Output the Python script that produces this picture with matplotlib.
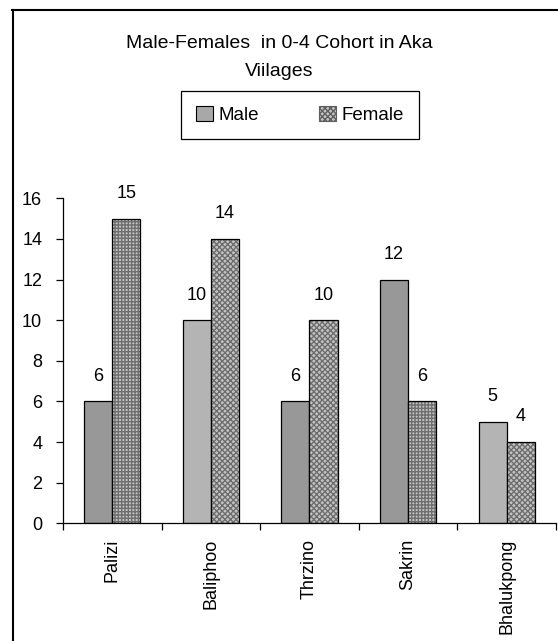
import matplotlib.pyplot as plt
from matplotlib.patches import Patch
from matplotlib.lines import Line2D

plt.rcParams['font.family'] = ['Liberation Sans', 'DejaVu Sans']

# data
villages = ["Palizi", "Baliphoo", "Thrzino", "Sakrin", "Bhalukpong"]
male = [6, 10, 6, 12, 5]
female = [15, 14, 10, 6, 4]
y_ticks = [0, 2, 4, 6, 8, 10, 12, 14, 16]

# styles (one per village, the original uses slightly different fills)
male_colors = ['#989898', '#b4b4b4', '#989898', '#989898', '#b4b4b4']
female_hatch = ['+++++', 'xxxxxx', 'xxxxxx', '+++++', 'xxxxxx']

fig = plt.figure(figsize=(5.58, 6.41), dpi=100)
ax = fig.add_axes([0.1129, 0.1836, 0.8835, 0.507])

w = 0.285
xs = list(range(len(villages)))
xm = [x - w / 2 for x in xs]
xf = [x + w / 2 for x in xs]

ax.bar(xm, male, width=w, color=male_colors, edgecolor='black', linewidth=0.9, zorder=2)
# female bars: patterned fill, then a black outline on top
ax.bar(xf, female, width=w, color='#c4c4c4', edgecolor='#6e6e6e', linewidth=0, zorder=2)
ax.bar(xf, female, width=w, color='none', edgecolor='black', linewidth=0.9, zorder=3)
for i, p in enumerate(ax.patches[len(villages):2 * len(villages)]):
    p.set_hatch(female_hatch[i])

for x, v in zip(xm, male):
    ax.annotate(str(v), (x, v), xytext=(0, 12), textcoords='offset points',
                ha='center', va='bottom', fontsize=13)
for x, v in zip(xf, female):
    ax.annotate(str(v), (x, v), xytext=(0, 12), textcoords='offset points',
                ha='center', va='bottom', fontsize=13)

ax.set_xlim(-0.5, len(villages) - 0.5)
ax.set_ylim(0, 16)
ax.set_yticks(y_ticks)
ax.tick_params(axis='y', labelsize=13, length=5, pad=10, width=0.9)

# ticks at the category boundaries, labels at the centres
ax.set_xticks([x - 0.5 for x in xs] + [len(villages) - 0.5])
ax.set_xticklabels([])
ax.set_xticks(xs, minor=True)
ax.set_xticklabels(villages, minor=True, rotation=90, fontsize=13)
ax.tick_params(axis='x', which='major', length=5, width=0.9)
ax.tick_params(axis='x', which='minor', length=0, pad=11)

for s in ['top', 'right']:
    ax.spines[s].set_visible(False)
for s in ['left', 'bottom']:
    ax.spines[s].set_linewidth(0.9)

fig.text(0.5, 1 - 44 / 641, "Male-Females  in 0-4 Cohort in Aka", ha='center', va='center', fontsize=14)
fig.text(0.5, 1 - 72 / 641, "Viilages", ha='center', va='center', fontsize=14)

handles = [Patch(facecolor='#a8a8a8', edgecolor='black', linewidth=0.8),
           Patch(facecolor='#c4c4c4', edgecolor='#5e5e5e', hatch='xxxxxx', linewidth=0.8)]
leg = fig.legend(handles, ["Male", "Female"], ncol=2, fontsize=13.5,
                 loc='center', bbox_to_anchor=(300 / 558, 1 - 115 / 641),
                 fancybox=False, framealpha=1, edgecolor='black',
                 handlelength=0.9, handleheight=0.9, handletextpad=0.3,
                 columnspacing=3.2, borderpad=0.8, borderaxespad=0)
leg.get_frame().set_linewidth(0.9)

# outer chart border (cropped on the right and bottom)
fig.add_artist(Line2D([12.5 / 558, 12.5 / 558], [0, 1 - 10 / 641], color='black', lw=1.5))
fig.add_artist(Line2D([12 / 558, 1], [1 - 10 / 641, 1 - 10 / 641], color='black', lw=1.5))

fig.savefig('out.png', dpi=100)
